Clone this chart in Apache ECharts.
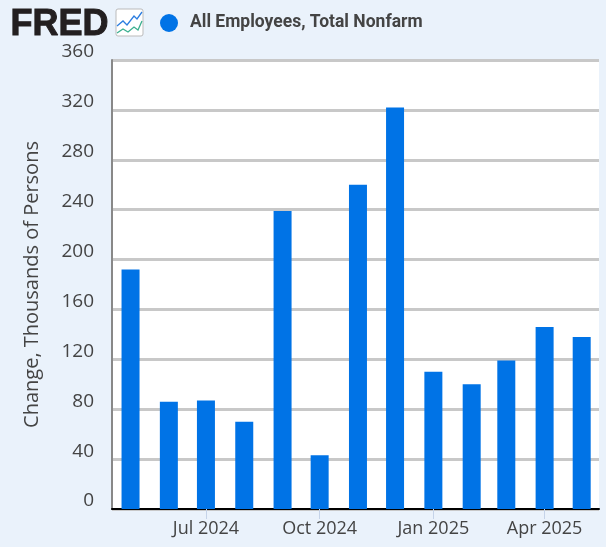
<!DOCTYPE html>
<html>
<head>
<meta charset="UTF-8" />
<title>All Employees, Total Nonfarm</title>
<script src="https://cdn.jsdelivr.net/npm/echarts@6/dist/echarts.min.js"></script>
<style>
  html, body { margin: 0; padding: 0; background: #eaf2fb; }
  #chart { width: 606px; height: 547px; }
</style>
</head>
<body>
<div id="chart"></div>
<script>
var seriesName = 'All Employees, Total Nonfarm';
var axisTitle = 'Change, Thousands of Persons';
var months = ['2024-05-01','2024-06-01','2024-07-01','2024-08-01','2024-09-01','2024-10-01','2024-11-01','2024-12-01','2025-01-01','2025-02-01','2025-03-01','2025-04-01','2025-05-01'];
var values = [192, 86, 87, 70, 239, 43, 260, 322, 110, 100, 119, 146, 138];
var tickDates = ['2024-07-01','2024-10-01','2025-01-01','2025-04-01'];
var monthNames = ['Jan','Feb','Mar','Apr','May','Jun','Jul','Aug','Sep','Oct','Nov','Dec'];
var labelFont = 'Open Sans';

function ts(s) { return new Date(s + 'T00:00:00Z').getTime(); }

var myChart = echarts.init(document.getElementById('chart'));
myChart.setOption({
  animation: false,
  backgroundColor: '#eaf2fb',
  grid: { left: 112, right: 7, top: 60, bottom: 38, backgroundColor: '#fff', show: true, borderWidth: 0 },
  legend: {
    left: 155, top: 9,
    icon: 'circle',
    itemWidth: 18, itemHeight: 18,
    textStyle: { fontFamily: 'Roboto', fontWeight: 'bold', fontSize: 17.5, color: '#444', padding: [0, 0, 0, 7] },
    data: [seriesName]
  },
  xAxis: {
    type: 'value',
    min: ts('2024-04-16'),
    max: ts('2025-05-15'),
    axisLine: { lineStyle: { color: '#000', width: 2 } },
    axisTick: { customValues: tickDates.map(ts), length: 10, lineStyle: { color: '#c5d3e8', width: 1 } },
    axisLabel: {
      customValues: tickDates.map(ts),
      fontFamily: labelFont, color: '#444', fontSize: 18, margin: 11,
      formatter: function (v) { var d = new Date(v); return monthNames[d.getUTCMonth()] + ' ' + d.getUTCFullYear(); }
    },
    splitLine: { show: false }
  },
  yAxis: {
    type: 'value',
    min: 0, max: 360, interval: 40,
    name: axisTitle,
    nameLocation: 'middle',
    nameGap: 70,
    nameTextStyle: { fontFamily: labelFont, color: '#444', fontSize: 20 },
    axisLine: { show: true, onZero: false, lineStyle: { color: '#888', width: 2 } },
    axisTick: { show: false },
    axisLabel: { fontFamily: labelFont, color: '#444', fontSize: 19, margin: 18, verticalAlign: 'bottom', lineHeight: 16 },
    splitLine: { lineStyle: { color: '#c8c8c8', width: 3 } }
  },
  series: [{
    name: seriesName,
    type: 'bar',
    barWidth: 18,
    itemStyle: { color: '#0073e6' },
    data: months.map(function (m, i) { return [ts(m), values[i]]; })
  }],
  graphic: [
    { type: 'text', left: 10, top: 7, style: { text: 'FRED', fontFamily: 'Liberation Sans', fontWeight: 'bold', fontSize: 36, fill: '#231f20', stroke: '#231f20', lineWidth: 1 } },
    { type: 'rect', shape: { x: 116, y: 9, width: 27, height: 27, r: 2 }, style: { fill: '#fff', stroke: '#bbb', lineWidth: 1 } },
    { type: 'polyline', shape: { points: [[117,26],[123,21],[127,25],[134,16],[137,19],[142,12]] }, style: { fill: 'none', stroke: '#2b7de0', lineWidth: 1.3 } },
    { type: 'polyline', shape: { points: [[117,33],[123,29],[128,32],[134,27],[138,30],[142,21]] }, style: { fill: 'none', stroke: '#3aaf8f', lineWidth: 1.3 } }
  ]
});
</script>
</body>
</html>
